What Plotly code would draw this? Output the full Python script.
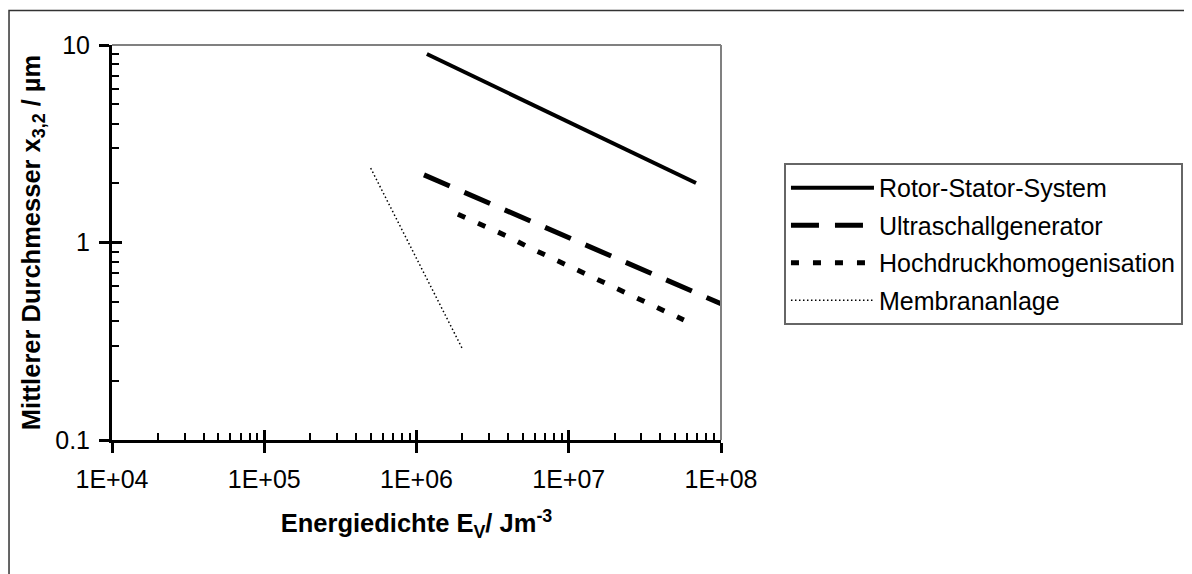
import plotly.graph_objects as go

# ---- data ----
energy_ticks = [1e4, 1e5, 1e6, 1e7, 1e8]
energy_labels = ["1E+04", "1E+05", "1E+06", "1E+07", "1E+08"]
diam_ticks = [0.1, 1, 10]
diam_labels = ["0.1", "1", "10"]

rotor_x = [1.17e6, 6.85e7]
rotor_y = [9.0, 2.0]

ultra_x = [1.12e6, 1.0e8]
ultra_y = [2.2, 0.49]

hoch_x = [1.87e6, 3.9e6, 5.4e6, 5.7e7]
hoch_y = [1.39, 1.08, 0.95, 0.405]

membran_x = [5.0e5, 2.0e6]
membran_y = [2.38, 0.29]

names = ["Rotor-Stator-System", "Ultraschallgenerator",
         "Hochdruckhomogenisation", "Membrananlage"]

# minor tick positions (2..9 per decade)
x_minor = [m * 10 ** e for e in range(4, 8) for m in range(2, 10)]
y_minor = [m * 10 ** e for e in range(-1, 1) for m in range(2, 10)]

FONT = "Arial, Liberation Sans, sans-serif"

fig = go.Figure()
series = [
    (rotor_x, rotor_y, dict(color="black", width=4, dash="solid")),
    (ultra_x, ultra_y, dict(color="black", width=5, dash="28px,16px")),
    (hoch_x, hoch_y, dict(color="black", width=5, dash="8px,14px")),
    (membran_x, membran_y, dict(color="black", width=1.5, dash="1.5px,2.5px")),
]
for i, ((xs, ys, ln), nm) in enumerate(zip(series, names)):
    fig.add_trace(go.Scatter(x=xs, y=ys, mode="lines", name=nm, line=ln,
                             legendgroup=f"g{i}"))

# empty trace to carry the overlay axes (crossing part of major ticks)
fig.add_trace(go.Scatter(x=[], y=[], xaxis="x2", yaxis="y2", showlegend=False,
                         hoverinfo="skip"))

fig.update_layout(
    width=1192, height=574,
    margin=dict(l=104, r=479, t=37, b=142),
    paper_bgcolor="white", plot_bgcolor="white",
    font=dict(family=FONT, size=25, color="black"),
    showlegend=True,
    legend=dict(
        x=1.1034, y=0.7013, xanchor="left", yanchor="top",
        bordercolor="#666666", borderwidth=2, bgcolor="white",
        font=dict(family=FONT, size=25, color="black"),
        itemwidth=83, traceorder="grouped", tracegroupgap=2,
    ),
    xaxis=dict(
        type="log", range=[4, 8],
        tickmode="array", tickvals=energy_ticks, ticktext=energy_labels,
        ticks="outside", ticklen=10, tickwidth=3, tickcolor="black",
        ticklabelstandoff=5,
        showline=True, linecolor="black", linewidth=3,
        showgrid=False, zeroline=False,
        tickfont=dict(family=FONT, size=25, color="black"),
        minor=dict(tickvals=x_minor, ticks="inside", ticklen=7, tickwidth=2,
                   tickcolor="black", showgrid=False),
        title=dict(text="<b>Energiedichte E<sub>V</sub>/ Jm<sup>-3</sup></b>",
                   font=dict(family=FONT, size=25.5, color="black"), standoff=23),
    ),
    yaxis=dict(
        type="log", range=[-1, 1],
        tickmode="array", tickvals=diam_ticks, ticktext=diam_labels,
        ticks="outside", ticklen=10, tickwidth=3, tickcolor="black",
        ticklabelstandoff=4,
        showline=True, linecolor="black", linewidth=3,
        showgrid=False, zeroline=False,
        tickfont=dict(family=FONT, size=25, color="black"),
        minor=dict(tickvals=y_minor, ticks="inside", ticklen=7, tickwidth=2,
                   tickcolor="black", showgrid=False),
        title=dict(text="<b>Mittlerer Durchmesser x<sub>3,2</sub> / µm</b>",
                   font=dict(family=FONT, size=25.5, color="black"), standoff=8),
    ),
    xaxis2=dict(
        type="log", range=[4, 8], overlaying="x", anchor="y", side="bottom",
        tickmode="array", tickvals=energy_ticks,
        ticks="inside", ticklen=10, tickwidth=3, tickcolor="black",
        showticklabels=False, showline=False, showgrid=False, zeroline=False,
    ),
    yaxis2=dict(
        type="log", range=[-1, 1], overlaying="y", anchor="x", side="left",
        tickmode="array", tickvals=diam_ticks,
        ticks="inside", ticklen=10, tickwidth=3, tickcolor="black",
        showticklabels=False, showline=False, showgrid=False, zeroline=False,
    ),
    shapes=[
        # grey top and right border of plot area
        dict(type="line", xref="paper", yref="paper", x0=0, x1=1, y0=1, y1=1,
             line=dict(color="#808080", width=2)),
        dict(type="line", xref="paper", yref="paper", x0=1, x1=1, y0=0, y1=1,
             line=dict(color="#808080", width=2)),
        # outer chart frame
        dict(type="rect", xref="paper", yref="paper",
             x0=-0.1691, x1=1.80, y0=-0.40, y1=1.0873,
             line=dict(color="#333333", width=1.5), layer="below"),
    ],
)

fig.write_html("out.html")
